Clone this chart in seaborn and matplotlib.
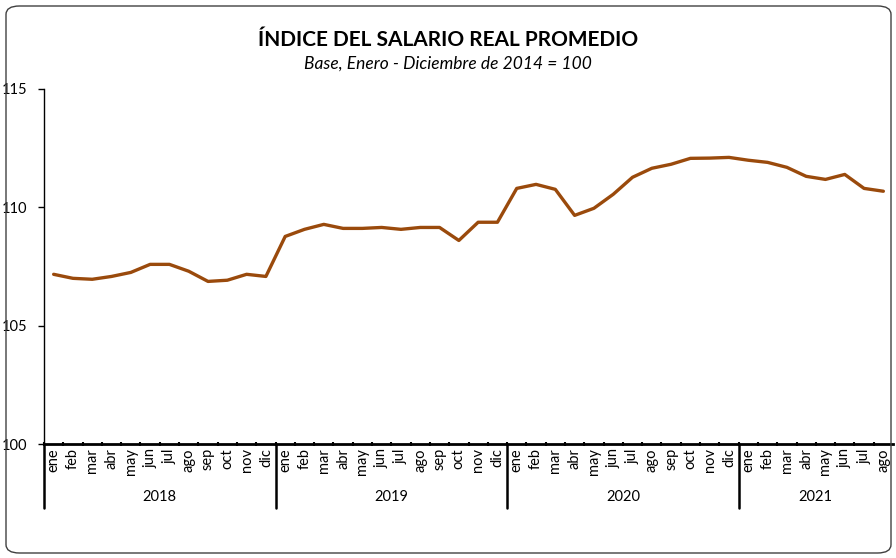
import numpy as np
import pandas as pd
import matplotlib
matplotlib.use("Agg")
import matplotlib.pyplot as plt
import seaborn as sns
from matplotlib.patches import FancyBboxPatch

months = ["ene", "feb", "mar", "abr", "may", "jun", "jul", "ago", "sep", "oct", "nov", "dic"]
years = ["2018", "2019", "2020", "2021"]

v2018 = [107.17, 107.0, 106.96, 107.08, 107.25, 107.59, 107.59, 107.3, 106.87, 106.92, 107.17, 107.08]
v2019 = [108.77, 109.07, 109.28, 109.11, 109.11, 109.15, 109.07, 109.15, 109.15, 108.6, 109.37, 109.37]
v2020 = [110.8, 110.97, 110.76, 109.66, 109.96, 110.55, 111.27, 111.65, 111.82, 112.07, 112.08, 112.11]
v2021 = [111.99, 111.9, 111.69, 111.31, 111.18, 111.39, 110.8, 110.68]

values = v2018 + v2019 + v2020 + v2021
labels = months * 3 + months[:len(v2021)]
year_of = ["2018"] * 12 + ["2019"] * 12 + ["2020"] * 12 + ["2021"] * len(v2021)

df = pd.DataFrame({"pos": np.arange(len(values)), "mes": labels, "anio": year_of, "indice": values})

sns.set_style("white")
plt.rcParams["font.family"] = ["Lato", "DejaVu Sans"]
plt.rcParams["text.color"] = "black"
plt.rcParams["xtick.color"] = "black"
plt.rcParams["ytick.color"] = "black"

W, H = 896, 558
fig = plt.figure(figsize=(W / 100, H / 100), dpi=100)
ax = fig.add_axes([44 / W, 1 - 444 / H, (893 - 44) / W, (444 - 89) / H])

sns.lineplot(data=df, x="pos", y="indice", color="#9A4A0C", linewidth=2.4, ax=ax)

ax.set_xlim(-0.5, len(values) - 0.5)
ax.set_ylim(100, 115)
ax.set_yticks([100, 105, 110, 115])
ax.set_yticklabels(["100", "105", "110", "115"], fontsize=10.5)
ax.tick_params(axis="y", length=4, width=1, direction="out", pad=8, left=True)

ax.set_xticks(df["pos"])
ax.set_xticklabels(df["mes"], rotation=90, fontsize=10.5)
ax.tick_params(axis="x", length=0, pad=3)
ax.set_xticks(np.arange(len(values)) - 0.5, minor=True)
ax.tick_params(axis="x", which="minor", length=3, width=1.5, direction="inout", bottom=True)
ax.set_xlabel("")
ax.set_ylabel("")

for s in ["top", "right"]:
    ax.spines[s].set_visible(False)
ax.spines["left"].set_color("black")
ax.spines["left"].set_linewidth(1)
ax.spines["bottom"].set_color("black")
ax.spines["bottom"].set_linewidth(2)

# year separators and labels
sep_bottom = -(508 - 444) / (444 - 89)
trans = ax.get_xaxis_transform()
starts = [0, 12, 24, 36]
for i, yr in enumerate(years):
    x0 = starts[i] - 0.5
    ax.plot([x0, x0], [0, sep_bottom], transform=trans, color="black", lw=1.8, clip_on=False)
    n = (df["anio"] == yr).sum()
    ax.text(starts[i] + (n - 1) / 2, -(497 - 444) / (444 - 89), yr, transform=trans,
            ha="center", va="center", fontsize=10.5)

fig.text(0.5, 1 - 40 / H, "ÍNDICE DEL SALARIO REAL PROMEDIO", ha="center", va="center",
         fontsize=15, fontweight="bold")
fig.text(0.5, 1 - 64 / H, "Base, Enero - Diciembre de 2014 = 100", ha="center", va="center",
         fontsize=12.5, style="italic")

border = FancyBboxPatch((6 / W, 5 / H), (891 - 6) / W, (552 - 5) / H,
                        boxstyle="round,pad=0,rounding_size=0.015",
                        transform=fig.transFigure, fill=False, edgecolor="#404040", lw=1)
fig.patches.append(border)

fig.savefig("out.png", dpi=100)
